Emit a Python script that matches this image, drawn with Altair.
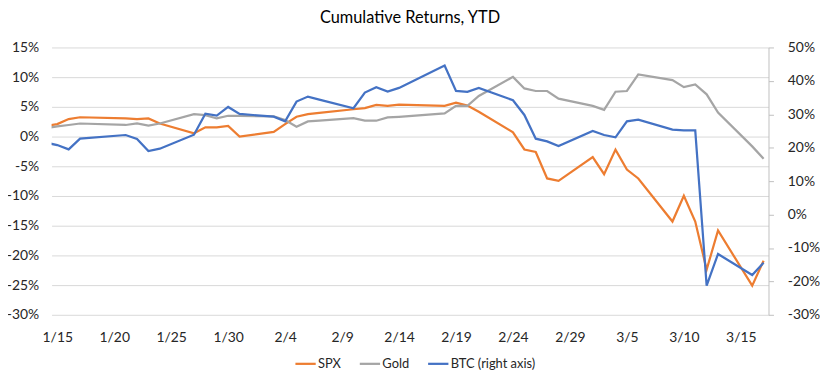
import altair as alt
import pandas as pd

# ---- data, values in percent ----
dates = [
    "2020/01/14", "2020/01/15", "2020/01/16", "2020/01/17", "2020/01/21", "2020/01/22",
    "2020/01/23", "2020/01/24", "2020/01/27", "2020/01/28", "2020/01/29", "2020/01/30",
    "2020/01/31", "2020/02/03", "2020/02/04", "2020/02/05", "2020/02/06", "2020/02/07",
    "2020/02/10", "2020/02/11", "2020/02/12", "2020/02/13", "2020/02/14", "2020/02/18",
    "2020/02/19", "2020/02/20", "2020/02/21", "2020/02/24", "2020/02/25", "2020/02/26",
    "2020/02/27", "2020/02/28", "2020/03/02", "2020/03/03", "2020/03/04", "2020/03/05",
    "2020/03/06", "2020/03/09", "2020/03/10", "2020/03/11", "2020/03/12", "2020/03/13",
    "2020/03/16", "2020/03/17",
]
spx = [
    1.8, 2.1, 2.95, 3.25, 3.05, 2.95,
    3.05, 2.2, 0.55, 1.55, 1.55, 1.8,
    0.0, 0.8, 2.1, 3.33, 3.78, 4.0,
    4.6, 4.78, 5.33, 5.17, 5.38, 5.17,
    5.72, 5.22, 4.17, 0.72, -2.17, -2.6,
    -7.05, -7.45, -3.45, -6.33, -2.2, -5.55,
    -7.05, -14.3, -9.95, -14.3, -22.4, -15.8,
    -25.1, -20.9,
]
gold = [
    1.4, 1.7, 1.95, 2.2, 1.95, 2.2,
    1.83, 2.2, 3.78, 3.6, 3.05, 3.5,
    3.5, 3.4, 2.78, 1.67, 2.55, 2.7,
    3.11, 2.67, 2.67, 3.22, 3.33, 3.89,
    5.17, 5.17, 6.83, 10.05, 8.1, 7.67,
    7.67, 6.39, 5.17, 4.5, 7.55, 7.67,
    10.45, 9.5, 8.33, 8.78, 7.11, 4.05,
    -1.65, -3.72,
]
btc = [
    21.5, 20.8, 19.5, 22.7, 23.8, 22.6,
    19.0, 19.7, 23.9, 30.2, 29.6, 32.2,
    30.1, 29.3, 27.9, 33.8, 35.3, 34.4,
    31.8, 36.5, 38.1, 36.8, 37.9, 44.6,
    37.0, 36.7, 37.9, 34.2, 29.8, 22.7,
    21.9, 20.5, 25.0, 23.8, 23.1, 27.9,
    28.4, 25.4, 25.2, 25.2, -21.3, -11.8,
    -18.1, -14.4,
]
series_names = ["SPX", "Gold", "BTC (right axis)"]
series_colors = ["#ED7D31", "#A5A5A5", "#4472C4"]
x_tick_days = [(1, 15), (1, 20), (1, 25), (1, 30), (2, 4), (2, 9), (2, 14),
               (2, 19), (2, 24), (2, 29), (3, 5), (3, 10), (3, 15)]
left_ticks = list(range(-30, 16, 5))
right_ticks = list(range(-30, 51, 10))

n = len(dates)
left_df = pd.DataFrame({
    "date": dates * 2,
    "value": spx + gold,
    "series": [series_names[0]] * n + [series_names[1]] * n,
})
right_df = pd.DataFrame({
    "date": dates,
    "value": btc,
    "series": [series_names[2]] * n,
})

FONT = "Lato"
TXT = "#262626"

color = alt.Color(
    "series:N",
    scale=alt.Scale(domain=series_names, range=series_colors),
    legend=alt.Legend(
        title=None, orient="none", legendX=245, legendY=308,
        direction="horizontal", symbolType="stroke", symbolStrokeWidth=2.25,
        symbolSize=420, labelFont=FONT, labelFontSize=13, labelColor=TXT,
        columnPadding=13, labelOffset=1, gridAlign="none",
    ),
)

x = alt.X(
    "date:T",
    scale=alt.Scale(
        domain=[alt.DateTime(year=2020, month=1, date=14, hours=12),
                alt.DateTime(year=2020, month=3, date=17, hours=10, minutes=20)],
        nice=False,
    ),
    axis=alt.Axis(
        title=None,
        values=[alt.DateTime(year=2020, month=m, date=d) for m, d in x_tick_days],
        format="%-m/%-d", labelFont=FONT, labelFontSize=14, labelColor=TXT,
        domain=False, ticks=False, tickSize=0, grid=False, labelPadding=16,
    ),
)

left = alt.Chart(left_df).mark_line(strokeWidth=2.25, clip=True).encode(
    x=x,
    y=alt.Y(
        "value:Q",
        scale=alt.Scale(domain=[-30, 15], nice=False, zero=False),
        axis=alt.Axis(
            title=None, orient="left", values=left_ticks,
            labelExpr="datum.value + '%'", labelFont=FONT, labelFontSize=14,
            labelColor=TXT, grid=True, gridColor="#d9d9d9", gridWidth=1,
            domain=False, ticks=False, tickSize=0, labelPadding=13,
        ),
    ),
    color=color,
    order=alt.Order("series:N"),
)

right = alt.Chart(right_df).mark_line(strokeWidth=2.25, clip=True).encode(
    x=x,
    y=alt.Y(
        "value:Q",
        scale=alt.Scale(domain=[-30, 50], nice=False, zero=False),
        axis=alt.Axis(
            title=None, orient="right", values=right_ticks,
            labelExpr="datum.value + '%'", labelFont=FONT, labelFontSize=14,
            labelColor=TXT, grid=False, domain=True, domainColor="#bfbfbf",
            ticks=True, tickColor="#bfbfbf", tickSize=5, labelPadding=14,
        ),
    ),
    color=color,
)

chart = (
    alt.layer(left, right)
    .resolve_scale(y="independent")
    .properties(
        width=724, height=270,
        title=alt.TitleParams(
            "Cumulative Returns, YTD", font=FONT, fontSize=16.5,
            fontWeight="normal", color="#000000", offset=14,
            anchor="middle", frame="group",
        ),
        autosize=alt.AutoSizeParams(type="none"),
        padding={"left": 44, "top": 38, "right": 52, "bottom": 65},
        background="white",
    )
    .configure_view(stroke=None)
)

chart.save("out.html", embed_options={"renderer": "svg", "actions": False})
